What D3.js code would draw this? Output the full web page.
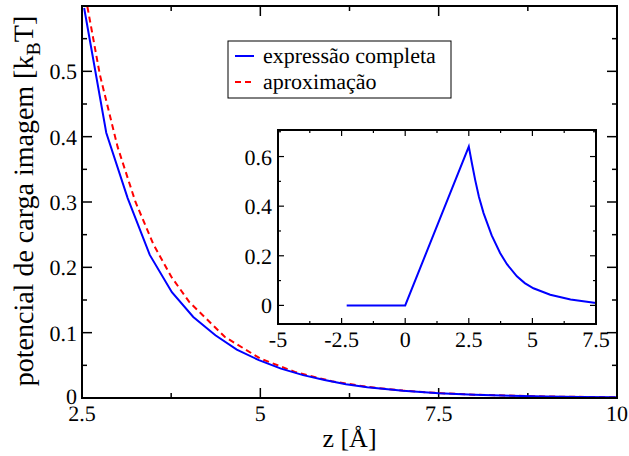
<!DOCTYPE html>
<html>
<head>
<meta charset="utf-8">
<script src="https://cdn.jsdelivr.net/npm/d3@7"></script>
<style>
body { margin: 0; background: #fff; }
</style>
</head>
<body>
<div id="chart"></div>
<script>
// main panel: full expression vs approximation
var zFull = [2.53, 2.84, 3.14, 3.45, 3.76, 4.06, 4.37, 4.67, 4.98, 5.29, 5.6, 5.9, 6.2, 6.5, 7.0, 7.5, 8.0, 8.5, 9.0, 9.5, 10.0];
var vFull = [0.597, 0.406, 0.306, 0.219, 0.162, 0.124, 0.096, 0.074, 0.058, 0.045, 0.035, 0.0275, 0.021, 0.0165, 0.011, 0.0074, 0.0051, 0.0035, 0.0024, 0.0016, 0.0011];
var zApprox = [2.5, 2.75, 3.0, 3.25, 3.5, 3.75, 4.0, 4.5, 5.0, 5.5, 6.0, 6.5, 7.0, 7.5, 8.0, 9.0, 10.0];
var vApprox = [0.644, 0.495, 0.384, 0.300, 0.2355, 0.186, 0.1474, 0.0937, 0.0603, 0.0393, 0.0257, 0.017, 0.0113, 0.0075, 0.0051, 0.0023, 0.0011];

// inset panel
var zInset = [-2.3, 0, 2.5, 2.62, 2.75, 2.9, 3.08, 3.4, 3.73, 4.0, 4.39, 4.7, 5.04, 5.7, 6.5, 7.5];
var vInset = [0, 0, 0.64, 0.574, 0.506, 0.437, 0.372, 0.282, 0.211, 0.166, 0.117, 0.09, 0.069, 0.043, 0.024, 0.0095];

var xTicks = [2.5, 5, 7.5, 10];
var yTicks = [0, 0.1, 0.2, 0.3, 0.4, 0.5];
var xTicksInset = [-5, -2.5, 0, 2.5, 5, 7.5];
var yTicksInset = [0, 0.2, 0.4, 0.6];

var legendNames = ["expressão completa", "aproximação"];

var w = 629, h = 456;
var serif = "Liberation Serif";
var svg = d3.select("#chart").append("svg").attr("width", w).attr("height", h)
  .attr("text-rendering", "geometricPrecision");

var m = {left: 82, right: 617, top: 6, bottom: 398};
var xScale = d3.scaleLinear().domain([2.5, 10]).range([m.left, m.right]);
var yScale = d3.scaleLinear().domain([0, 0.6]).range([m.bottom, m.top]);

svg.append("clipPath").attr("id", "clipMain").append("rect")
  .attr("x", m.left).attr("y", m.top).attr("width", m.right - m.left).attr("height", m.bottom - m.top);

function ticksInward(g, xs, ys, xVals, xMinor, yVals, yMinor, big, small) {
  var x0 = xs.range()[0], x1 = xs.range()[1], y0 = ys.range()[0], y1 = ys.range()[1];
  xVals.forEach(function(v) {
    g.append("line").attr("x1", xs(v)).attr("x2", xs(v)).attr("y1", y0).attr("y2", y0 - big);
    g.append("line").attr("x1", xs(v)).attr("x2", xs(v)).attr("y1", y1).attr("y2", y1 + big);
  });
  xMinor.forEach(function(v) {
    g.append("line").attr("x1", xs(v)).attr("x2", xs(v)).attr("y1", y0).attr("y2", y0 - small);
    g.append("line").attr("x1", xs(v)).attr("x2", xs(v)).attr("y1", y1).attr("y2", y1 + small);
  });
  yVals.forEach(function(v) {
    g.append("line").attr("x1", x0).attr("x2", x0 + big).attr("y1", ys(v)).attr("y2", ys(v));
    g.append("line").attr("x1", x1).attr("x2", x1 - big).attr("y1", ys(v)).attr("y2", ys(v));
  });
  yMinor.forEach(function(v) {
    g.append("line").attr("x1", x0).attr("x2", x0 + small).attr("y1", ys(v)).attr("y2", ys(v));
    g.append("line").attr("x1", x1).attr("x2", x1 - small).attr("y1", ys(v)).attr("y2", ys(v));
  });
}

// main ticks
var tg = svg.append("g").attr("stroke", "#000").attr("stroke-width", 1.5);
ticksInward(tg, xScale, yScale, xTicks, [3.75, 6.25, 8.75], yTicks.concat([0.6]), [0.05, 0.15, 0.25, 0.35, 0.45, 0.55], 10, 5);

var line = d3.line().x(function(d) { return xScale(d[0]); }).y(function(d) { return yScale(d[1]); });

svg.append("path")
  .datum(d3.zip(zApprox, vApprox))
  .attr("clip-path", "url(#clipMain)")
  .attr("d", line)
  .attr("fill", "none").attr("stroke", "#ff0000").attr("stroke-width", 2)
  .attr("stroke-dasharray", "6,4");

svg.append("path")
  .datum(d3.zip(zFull, vFull))
  .attr("clip-path", "url(#clipMain)")
  .attr("d", line)
  .attr("fill", "none").attr("stroke", "#0000ff").attr("stroke-width", 2);

svg.append("rect")
  .attr("x", m.left).attr("y", m.top).attr("width", m.right - m.left).attr("height", m.bottom - m.top)
  .attr("fill", "none").attr("stroke", "#000").attr("stroke-width", 2);

// main tick labels
svg.selectAll(".xl").data(xTicks).enter().append("text")
  .attr("x", function(d) { return xScale(d); }).attr("y", 421)
  .attr("text-anchor", "middle").style("font-size", "22px")
  .style("font-family", serif)
  .text(function(d) { return d; });
svg.selectAll(".yl").data(yTicks).enter().append("text")
  .attr("x", 77).attr("y", function(d) { return yScale(d) + 8 - (d == 0 ? 2 : 0); })
  .attr("text-anchor", "end").style("font-size", "22px")
  .style("font-family", serif)
  .text(function(d) { return d; });

// axis titles
svg.append("text").attr("x", (m.left + m.right) / 2).attr("y", 447)
  .attr("text-anchor", "middle").style("font-size", "26px")
  .style("font-family", serif).text("z [Å]");
var yt = svg.append("text").attr("transform", "translate(33,201) rotate(-90)")
  .attr("text-anchor", "middle").style("font-size", "28px").style("font-family", serif);
yt.append("tspan").text("potencial de carga imagem [k");
yt.append("tspan").style("font-size", "20px").attr("dy", 7).text("B");
yt.append("tspan").attr("dy", -7).text("T]");

// legend
var lg = svg.append("g");
lg.append("rect").attr("x", 228).attr("y", 41).attr("width", 223).attr("height", 57)
  .attr("fill", "#fff").attr("stroke", "#000").attr("stroke-width", 1);
var legColors = ["#0000ff", "#ff0000"];
legendNames.forEach(function(name, i) {
  var yy = 56 + i * 26;
  lg.append("line").attr("x1", 235).attr("x2", 254).attr("y1", yy).attr("y2", yy)
    .attr("stroke", legColors[i]).attr("stroke-width", 2)
    .attr("stroke-dasharray", i == 1 ? "6,4" : null);
  lg.append("text").attr("x", 263).attr("y", yy + 7).style("font-size", "22px")
    .style("font-family", serif).text(name);
});

// inset
var ins = {left: 278, right: 596, top: 130, bottom: 324};
var xIn = d3.scaleLinear().domain([-5, 7.5]).range([ins.left, ins.right]);
var yIn = d3.scaleLinear().domain([-0.075, 0.707]).range([ins.bottom, ins.top]);

svg.append("rect")
  .attr("x", ins.left).attr("y", ins.top).attr("width", ins.right - ins.left).attr("height", ins.bottom - ins.top)
  .attr("fill", "#fff");

var tgi = svg.append("g").attr("stroke", "#000").attr("stroke-width", 1.2);
ticksInward(tgi, xIn, yIn, xTicksInset, [-3.75, -1.25, 1.25, 3.75, 6.25], yTicksInset, [0.1, 0.3, 0.5, 0.7], 6, 3);

var lineIn = d3.line().x(function(d) { return xIn(d[0]); }).y(function(d) { return yIn(d[1]); });
svg.append("path")
  .datum(d3.zip(zInset, vInset))
  .attr("d", lineIn)
  .attr("fill", "none").attr("stroke", "#0000ff").attr("stroke-width", 2);

svg.append("rect")
  .attr("x", ins.left).attr("y", ins.top).attr("width", ins.right - ins.left).attr("height", ins.bottom - ins.top)
  .attr("fill", "none").attr("stroke", "#000").attr("stroke-width", 2);

svg.selectAll(".xli").data(xTicksInset).enter().append("text")
  .attr("x", function(d) { return xIn(d); }).attr("y", 347)
  .attr("text-anchor", "middle").style("font-size", "22px")
  .style("font-family", serif)
  .text(function(d) { return d; });
svg.selectAll(".yli").data(yTicksInset).enter().append("text")
  .attr("x", 272).attr("y", function(d) { return yIn(d) + 8; })
  .attr("text-anchor", "end").style("font-size", "22px")
  .style("font-family", serif)
  .text(function(d) { return d; });
</script>
</body>
</html>
